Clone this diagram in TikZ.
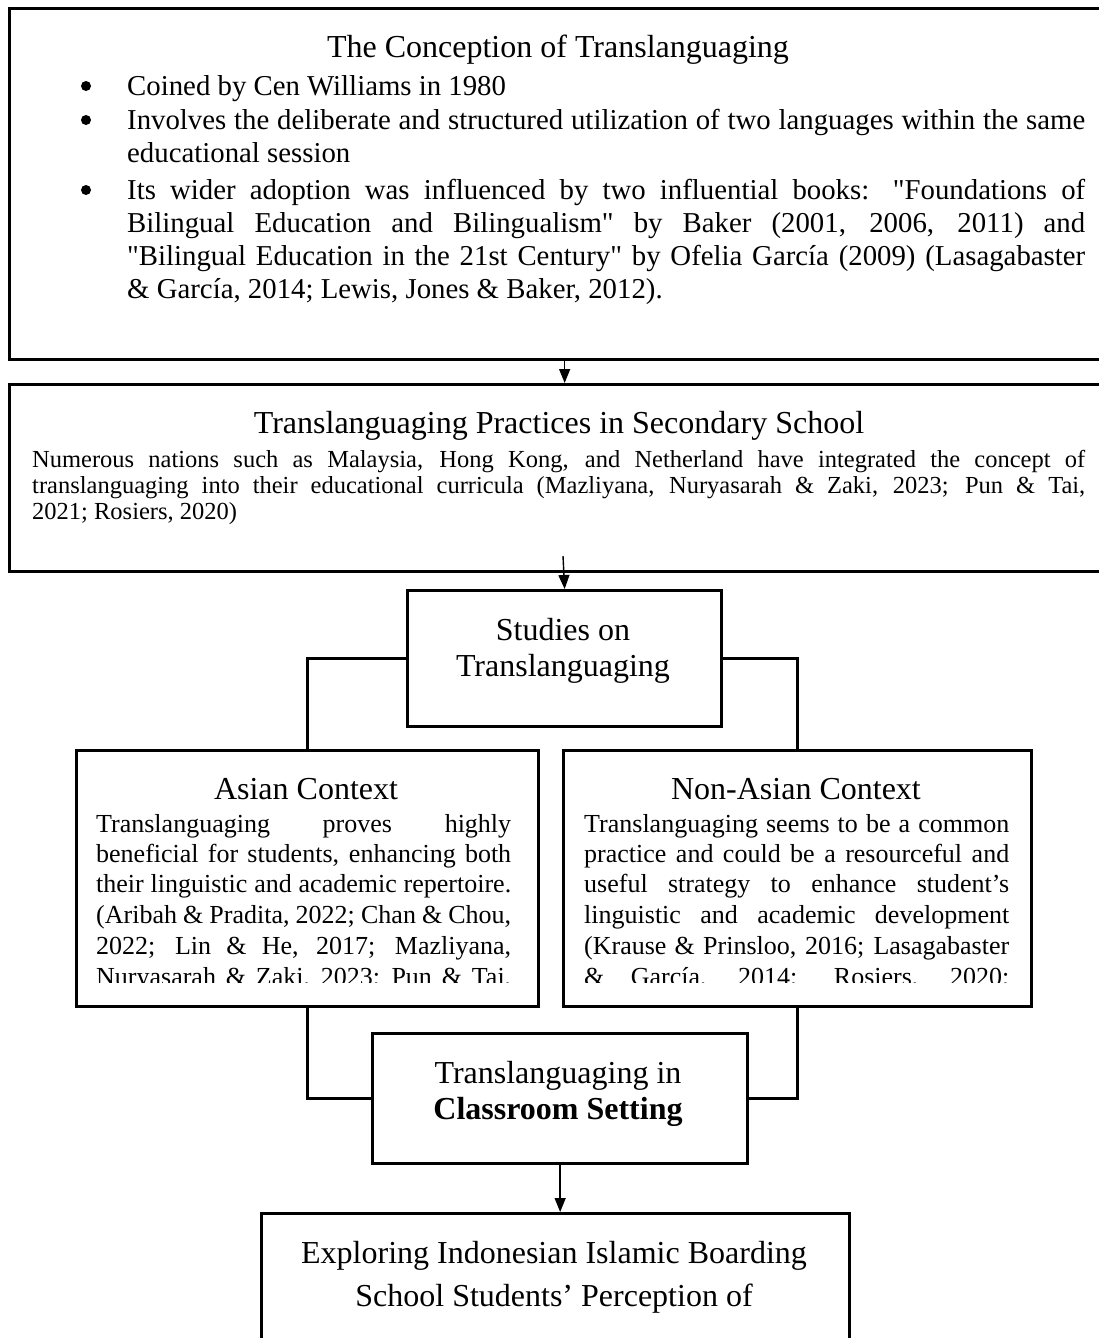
\documentclass[tikz,border=0pt]{standalone}
\usepackage{fontspec}
\setmainfont{Liberation Serif}[Ligatures=TeXOff]
\usetikzlibrary{arrows.meta}
\begin{document}
\begin{tikzpicture}[x=1pt,y=-1pt]
\tikzset{
  box/.style={draw, line width=3.3pt, inner sep=0pt, anchor=north west},
  conn/.style={line width=3.3pt},
  arr/.style={line width=1.4pt, -{Triangle[length=14pt,width=11pt]}},
  ttl/.style={anchor=base, inner sep=0pt, font=\fontsize{32}{38}\selectfont},
  ttlb/.style={anchor=base, inner sep=0pt, font=\fontsize{32}{38}\selectfont\bfseries},
  ba/.style={anchor=base west, inner sep=0pt, font=\fontsize{28.8}{33}\selectfont},
  bb/.style={anchor=base west, inner sep=0pt, font=\fontsize{24.5}{27}\selectfont},
  bc/.style={anchor=base west, inner sep=0pt, font=\fontsize{26}{30}\selectfont},
  bul/.style={circle, fill, inner sep=0pt, minimum size=10pt},
}
\clip (0,0) rectangle (1099,1338);
\fill[white] (0,0) rectangle (1099,1338);

% boxes
\node[box, minimum width=1102pt, minimum height=351pt] (b1) at (8,7) {};
\node[box, minimum width=1102pt, minimum height=187pt] (b2) at (8,383) {};
\node[box, minimum width=314pt, minimum height=136pt] (st) at (406,589) {};
\node[box, minimum width=462pt, minimum height=256pt] (as) at (75,749) {};
\node[box, minimum width=468pt, minimum height=256pt] (na) at (562,749) {};
\node[box, minimum width=375pt, minimum height=130pt] (cl) at (371,1032) {};
\node[box, minimum width=588pt, minimum height=160pt] (fin) at (260,1212) {};

% box 1 text
\node[ttl] (t1) at (558,58) {The Conception of Translanguaging};
\node[bul] (u1) at (86,86) {};
\node[ba] (l11) at (127,95) {Coined by Cen Williams in 1980};
\node[bul] (u2) at (86,120) {};
\node[ba] (l12) at (127,129) {\makebox[958pt][s]{Involves the deliberate and structured utilization of two languages within the same}};
\node[ba] (l13) at (127,162) {educational session};
\node[bul] (u3) at (86,190) {};
\node[ba] (l14) at (127,199) {\makebox[958pt][s]{Its wider adoption was influenced by two influential books: "Foundations of}};
\node[ba] (l15) at (127,232) {\makebox[958pt][s]{Bilingual Education and Bilingualism" by Baker (2001, 2006, 2011) and}};
\node[ba] (l16) at (127,265) {\makebox[958pt][s]{"Bilingual Education in the 21st Century" by Ofelia García (2009) (Lasagabaster}};
\node[ba] (l17) at (127,298) {\& García, 2014; Lewis, Jones \& Baker, 2012).};

% box 2 text
\node[ttl] (t2) at (559,433) {Translanguaging Practices in Secondary School};
\node[bb] (l21) at (32,467) {\makebox[1053pt][s]{Numerous nations such as Malaysia, Hong Kong, and Netherland have integrated the concept of}};
\node[bb] (l22) at (32,493) {\makebox[1053pt][s]{translanguaging into their educational curricula (Mazliyana, Nuryasarah \& Zaki, 2023; Pun \& Tai,}};
\node[bb] (l23) at (32,519) {2021; Rosiers, 2020)};

% studies
\node[ttl] (t3a) at (563,640) {Studies on};
\node[ttl] (t3b) at (563,676) {Translanguaging};

% context boxes
\node[ttl] (t4) at (306,799) {Asian Context};
\node[ttl] (t5) at (796,799) {Non-Asian Context};
\begin{scope}
\clip (60,800) rectangle (1040,982);
\node[bc] (l41) at (96,832) {\makebox[415pt][s]{Translanguaging proves highly}};
\node[bc] (l42) at (96,862) {\makebox[415pt][s]{beneficial for students, enhancing both}};
\node[bc] (l43) at (96,892) {\makebox[415pt][s]{their linguistic and academic repertoire.}};
\node[bc] (l44) at (96,923) {\makebox[415pt][s]{(Aribah \& Pradita, 2022; Chan \& Chou,}};
\node[bc] (l45) at (96,954) {\makebox[415pt][s]{2022; Lin \& He, 2017; Mazliyana,}};
\node[bc] (l46) at (96,985) {\makebox[415pt][s]{Nuryasarah \& Zaki, 2023; Pun \& Tai,}};
\node[bc] (l51) at (584,832) {\makebox[425pt][s]{Translanguaging seems to be a common}};
\node[bc] (l52) at (584,862) {\makebox[425pt][s]{practice and could be a resourceful and}};
\node[bc] (l53) at (584,892) {\makebox[425pt][s]{useful strategy to enhance student’s}};
\node[bc] (l54) at (584,923) {\makebox[425pt][s]{linguistic and academic development}};
\node[bc] (l55) at (584,954) {\makebox[425pt][s]{(Krause \& Prinsloo, 2016; Lasagabaster}};
\node[bc] (l56) at (584,985) {\makebox[425pt][s]{\& García, 2014; Rosiers, 2020;}};
\end{scope}

% classroom
\node[ttl] (t6a) at (558,1083) {Translanguaging in};
\node[ttlb] (t6b) at (558,1119) {Classroom Setting};

% final
\node[ttl] (t7a) at (554,1263) {Exploring Indonesian Islamic Boarding};
\node[ttl] (t7b) at (554,1306) {School Students’ Perception of};

% connectors
\coordinate (a2s) at (563,556);
\draw[arr] (b1.south -| st.north) -- (b2.north -| st.north);
\draw[arr] (a2s) -- (st.north);
\draw[conn] (st.west) -| (as.north);
\draw[conn] (st.east) -| (na.north);
\draw[conn] (as.south) |- (cl.west);
\draw[conn] (na.south) |- (cl.east);
\draw[arr] (cl.south) -- (cl.south |- fin.north);
\end{tikzpicture}
\end{document}
